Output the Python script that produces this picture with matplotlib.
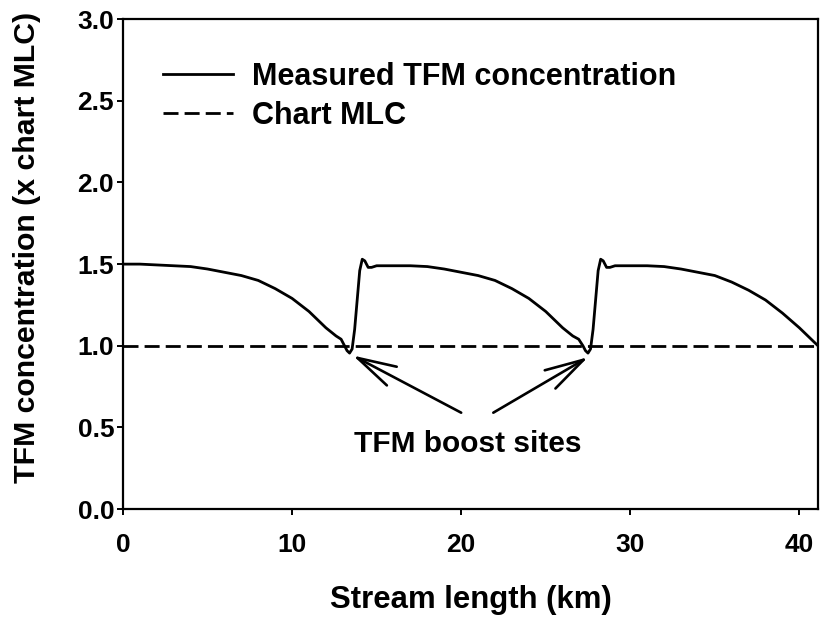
import matplotlib
matplotlib.use("Agg")
import matplotlib.pyplot as plt

plt.rcParams['font.family'] = ['Liberation Sans', 'DejaVu Sans']
plt.rcParams['font.weight'] = 'bold'

# stream length (km) and measured TFM concentration (x chart MLC)
stream_km = [
    0.0, 1.0, 2.0, 3.0, 4.0, 5.0, 6.0, 7.0, 8.0, 9.0, 10.0, 11.0, 12.0,
    12.6, 12.9, 13.1, 13.25, 13.4, 13.55, 13.7, 13.85, 14.0, 14.15, 14.3,
    14.5, 14.7, 15.0,
    16.0, 17.0, 18.0, 19.0, 20.0, 21.0, 22.0, 23.0, 24.0, 25.0, 26.0,
    26.6, 26.95, 27.2, 27.35, 27.5, 27.65, 27.8, 27.95, 28.1, 28.25, 28.4,
    28.6, 28.8, 29.1,
    30.0, 31.0, 32.0, 33.0, 34.0, 35.0, 36.0, 37.0, 38.0, 39.0, 40.0,
    40.6, 41.1,
]
tfm_conc = [
    1.50, 1.50, 1.495, 1.49, 1.485, 1.47, 1.45, 1.43, 1.40, 1.35, 1.29, 1.21, 1.11,
    1.06, 1.04, 1.00, 0.97, 0.955, 0.98, 1.10, 1.28, 1.46, 1.53, 1.52,
    1.48, 1.48, 1.49,
    1.49, 1.49, 1.485, 1.47, 1.45, 1.43, 1.40, 1.35, 1.29, 1.21, 1.11,
    1.06, 1.04, 1.00, 0.97, 0.955, 0.98, 1.10, 1.28, 1.46, 1.53, 1.52,
    1.48, 1.48, 1.49,
    1.49, 1.49, 1.485, 1.47, 1.45, 1.43, 1.39, 1.34, 1.28, 1.20, 1.11,
    1.05, 1.00,
]
chart_mlc = 1.0

# boost sites: arrow tips and tails (km, conc)
boost_tips = [(13.6, 0.94), (27.5, 0.93)]
boost_tails = [(20.0, 0.59), (21.9, 0.59)]

fig = plt.figure(figsize=(8.21, 6.2), dpi=100)
ax = fig.add_axes([0.1498, 0.179, 0.8465, 0.790])

ax.plot(stream_km, tfm_conc, color='black', lw=2.0, label='Measured TFM concentration')
ax.axhline(chart_mlc, color='black', lw=2.0, dashes=(5.4, 2.2), label='Chart MLC')

for tip, tail in zip(boost_tips, boost_tails):
    ax.annotate('', xy=tip, xytext=tail,
                arrowprops=dict(arrowstyle='->,head_length=1.4,head_width=0.38',
                                lw=1.9, color='black', shrinkA=0, shrinkB=0,
                                mutation_scale=20))
ax.text(20.4, 0.40, 'TFM boost sites', ha='center', va='center',
        fontsize=21.5, fontweight='bold')

ax.set_xlim(0, 41.1)
ax.set_ylim(0, 3.0)
ax.set_xticks([0, 10, 20, 30, 40])
ax.set_yticks([0.0, 0.5, 1.0, 1.5, 2.0, 2.5, 3.0])
ax.set_yticklabels(['0.0', '0.5', '1.0', '1.5', '2.0', '2.5', '3.0'])
ax.tick_params(direction='out', length=4.3, width=1.4, labelsize=19)
ax.tick_params(axis='y', pad=2)
ax.tick_params(axis='x', pad=13)
for s in ax.spines.values():
    s.set_linewidth(1.6)

ax.set_xlabel('Stream length (km)', fontsize=22.4, fontweight='bold', labelpad=20)
ax.set_ylabel('TFM concentration (x chart MLC)', fontsize=21.8, fontweight='bold')
ax.yaxis.set_label_coords(-0.118, 0.535)

ax.legend(loc='upper left', bbox_to_anchor=(0.0576, 0.913), frameon=False,
          fontsize=22, handlelength=2.3, handletextpad=0.6, labelspacing=0.3,
          borderpad=0, borderaxespad=0)

fig.savefig('out.png', dpi=100)
